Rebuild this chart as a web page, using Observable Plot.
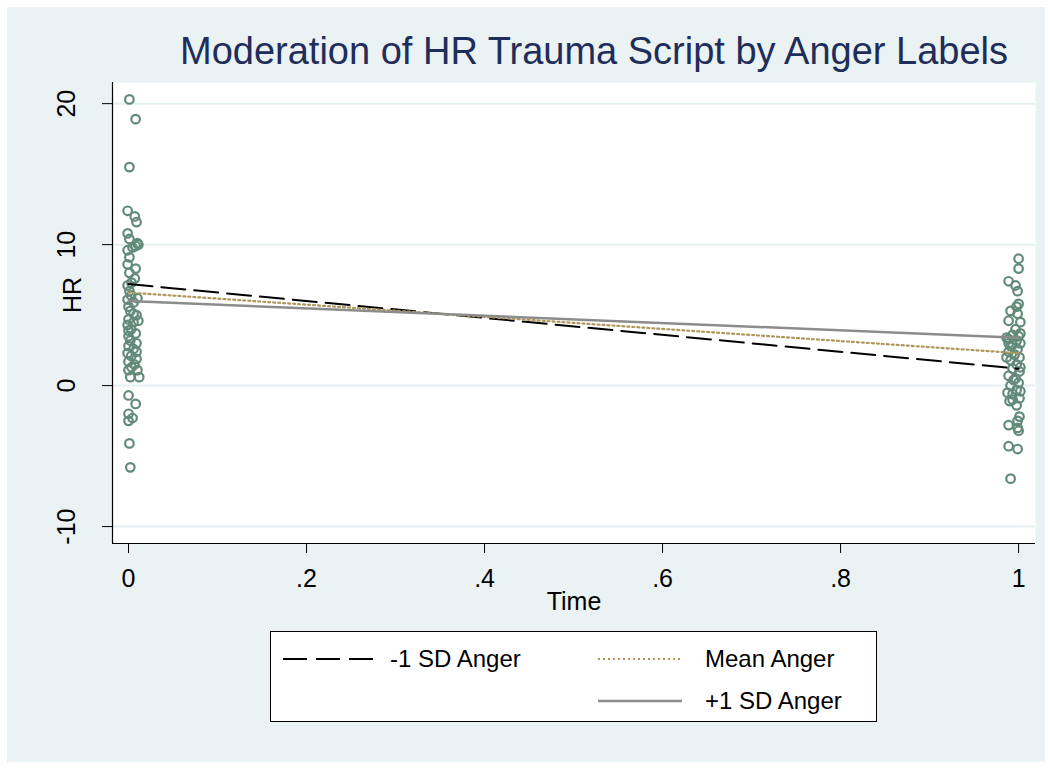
<!DOCTYPE html>
<html>
<head>
<meta charset="utf-8">
<script src="https://cdn.jsdelivr.net/npm/d3@7"></script>
<script src="https://cdn.jsdelivr.net/npm/@observablehq/plot@0.6"></script>
<style>
  html, body { margin: 0; padding: 0; background: #ffffff; }
  body { width: 1052px; height: 769px; position: relative; overflow: hidden; font-family: "Liberation Sans", Arial, sans-serif; }
  #bg { position: absolute; left: 7px; top: 7px; width: 1038px; height: 755px; background: #eaf2f3; }
  #title { position: absolute; left: 94px; top: 32px; width: 1000px; text-align: center; font-size: 38px; line-height: 38px; color: #1f2d5a; white-space: nowrap; }
  #chart { position: absolute; left: 7px; top: 67px; }
  #legend { position: absolute; left: 270px; top: 631px; }
</style>
</head>
<body>
<div id="bg"></div>
<div id="title">Moderation of HR Trauma Script by Anger Labels</div>
<div id="chart"></div>
<div id="legend"></div>
<script>
// ---- data ----
const timePre = [0.001,0.008,0.001,-0.001,0.007,0.009,-0.001,0.001,0.010,0.0045,-0.001,0.008,0.011,0.001,-0.001,0.001,0.007,-0.001,0.001,0.003,-0.001,0.0056,0.0,0.002,0.009,0.0,0.0056,-0.001,0.003,0.008,0.0,0.002,0.009,0.0,0.0056,-0.001,0.003,0.009,0.0,0.0067,0.0,0.010,0.002,0.012,0.0,0.008,0.0,0.0045,0.0,0.001,0.002,0.008,0.0034,0.010,0.0056,0.0,0.009,0.0034,0.011];
const hrPre   = [20.3,18.9,15.5,12.4,12.0,11.6,10.8,10.4,10.1,9.8,9.6,9.9,10.0,9.1,8.6,8.0,7.6,7.1,6.7,6.4,6.1,5.9,5.6,5.3,5.0,4.7,4.5,4.3,4.0,3.7,3.5,3.2,3.0,2.8,2.6,2.3,2.1,1.9,1.7,1.5,1.1,1.1,0.6,0.6,-0.7,-1.3,-2.0,-2.3,-2.5,-4.1,-5.8,8.3,7.3,6.2,5.1,3.9,2.4,1.3,4.6];
const timePost = [1.0,1.0,0.9888,0.9966,0.9989,1.0,0.9978,0.991,0.9989,0.9888,1.002,0.9966,0.9933,1.0,0.9888,0.9978,1.002,0.991,0.9989,0.9888,0.9955,1.001,0.991,0.9978,0.9933,1.001,0.9888,0.9966,1.0,0.991,0.9978,0.9933,1.001,0.9899,0.9978,1.001,0.9989,0.9888,0.9989,1.0,0.9888,0.9989,0.991,0.9865,1.002,0.9933,0.9865,1.002,0.9944,0.9876,1.002,0.9933,0.9888];
const hrPost   = [9.0,8.3,7.4,7.1,6.7,5.8,5.6,5.3,5.1,4.6,4.5,4.0,3.6,3.5,3.3,3.2,3.0,2.8,2.6,2.4,2.2,2.0,1.8,1.5,1.2,1.0,0.7,0.5,0.2,0.0,-0.3,-0.6,-0.9,-1.1,-1.4,-2.2,-2.5,-2.8,-3.0,-3.2,-4.3,-4.5,-6.6,3.4,3.7,2.9,2.0,1.3,0.4,-0.5,-0.4,-1.0,3.0];

const lineNames = ["-1 SD Anger", "Mean Anger", "+1 SD Anger"];
const lineTimes = [0, 1];
const hrAtTime0 = [7.2, 6.6, 6.0];
const hrAtTime1 = [1.2, 2.3, 3.4];

const xTicks = [0, 0.2, 0.4, 0.6, 0.8, 1];
const xTickLabels = ["0", ".2", ".4", ".6", ".8", "1"];
const yTicks = [-10, 0, 10, 20];
const yTickLabels = ["-10", "0", "10", "20"];

// ---- styles ----
const lineStyles = {
  "-1 SD Anger": {stroke: "#000000", width: 2, dash: "24,9"},
  "Mean Anger":  {stroke: "#b0965a", width: 2.2, dash: "2,3"},
  "+1 SD Anger": {stroke: "#8c8c8c", width: 2.5, dash: null}
};
const markerColor = "#628a7a";
const gridColor = "#e5eef0";

// ---- build tables ----
const points = [];
timePre.forEach((t, i) => points.push({time: t, hr: hrPre[i]}));
timePost.forEach((t, i) => points.push({time: t, hr: hrPost[i]}));

const lines = [];
lineNames.forEach((name, i) => {
  lines.push({series: name, time: lineTimes[0], hr: hrAtTime0[i]});
  lines.push({series: name, time: lineTimes[1], hr: hrAtTime1[i]});
});

const xDomain = [-0.018, 1.019];
const yDomain = [-11.2, 21.5];
const font = "'Liberation Sans', Arial, sans-serif";

const chart = Plot.plot({
  width: 1038,
  height: 560,
  marginLeft: 105,
  marginRight: 10,
  marginTop: 15,
  marginBottom: 84,
  style: {background: "transparent", fontFamily: font, overflow: "visible", color: "#000"},
  x: {domain: xDomain},
  y: {domain: yDomain},
  marks: [
    Plot.frame({fill: "white", stroke: null}),
    Plot.gridY(yTicks, {stroke: gridColor, strokeOpacity: 1, strokeWidth: 2}),
    Plot.ruleX([xDomain[0]], {stroke: "#000", strokeWidth: 1.2}),
    Plot.ruleY([yDomain[0]], {stroke: "#000", strokeWidth: 1.2}),
    Plot.axisX({ticks: xTicks, tickSize: 10, tickPadding: 16, fontSize: 25, label: null,
      tickFormat: d => xTickLabels[xTicks.indexOf(d)], stroke: "#000"}),
    Plot.axisY({ticks: yTicks, tickSize: 10, tickPadding: 28, tickRotate: -90, fontSize: 25, label: null,
      tickFormat: d => yTickLabels[yTicks.indexOf(d)], stroke: "#000"}),
    Plot.text(["HR"], {text: d => d, frameAnchor: "left", dx: -40, rotate: -90, fontSize: 25, fill: "#000"}),
    Plot.text(["Time"], {text: d => d, frameAnchor: "bottom", dy: 66, fontSize: 25, fill: "#000"}),
    Plot.dot(points, {x: "time", y: "hr", r: 4.3, stroke: markerColor, strokeWidth: 2.2, fill: "none"}),
    ...lineNames.map(name => Plot.line(lines.filter(d => d.series === name), {
      x: "time", y: "hr",
      stroke: lineStyles[name].stroke,
      strokeWidth: lineStyles[name].width,
      strokeDasharray: lineStyles[name].dash || undefined
    }))
  ]
});
document.getElementById("chart").appendChild(chart);

// ---- legend ----
const legendItems = [
  {name: lineNames[0], col: 0, row: 0},
  {name: lineNames[1], col: 1, row: 0},
  {name: lineNames[2], col: 1, row: 1}
];
const colSample = [[13, 105], [328, 412]];
const colText = [120, 435];
const rowY = [28, 70];
const lg = d3.select("#legend").append("svg")
  .attr("width", 607).attr("height", 91)
  .style("font-family", font).style("display", "block");
lg.append("rect").attr("x", 0.5).attr("y", 0.5).attr("width", 606).attr("height", 90)
  .attr("fill", "white").attr("stroke", "#000").attr("stroke-width", 1);
legendItems.forEach(it => {
  const s = lineStyles[it.name];
  lg.append("line")
    .attr("x1", colSample[it.col][0]).attr("x2", colSample[it.col][1])
    .attr("y1", rowY[it.row]).attr("y2", rowY[it.row])
    .attr("stroke", s.stroke).attr("stroke-width", s.width)
    .attr("stroke-dasharray", s.dash);
  lg.append("text")
    .attr("x", colText[it.col]).attr("y", rowY[it.row])
    .attr("dy", "0.35em").attr("font-size", 24).attr("fill", "#000")
    .text(it.name);
});
</script>
</body>
</html>
